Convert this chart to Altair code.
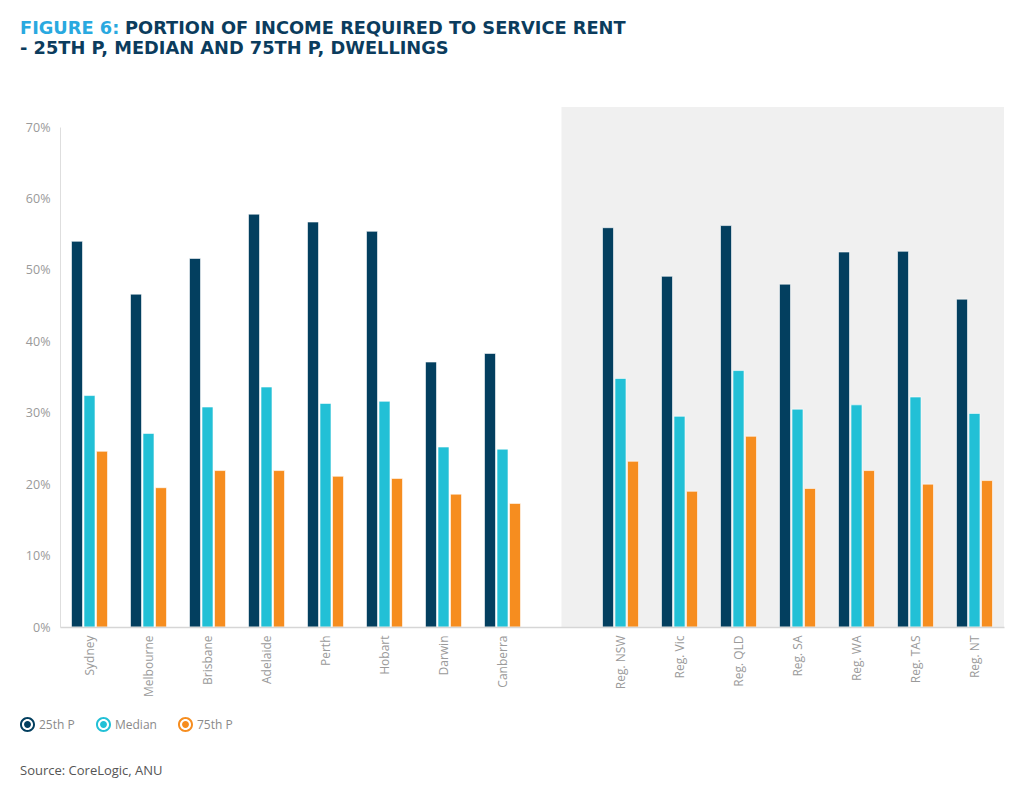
import altair as alt
import pandas as pd

# ---- data ----
cities = ["Sydney", "Melbourne", "Brisbane", "Adelaide", "Perth", "Hobart", "Darwin", "Canberra"]
regions = ["Reg. NSW", "Reg. Vic", "Reg. QLD", "Reg. SA", "Reg. WA", "Reg. TAS", "Reg. NT"]
series = ["25th P", "Median", "75th P"]

p25_cities = [54.0, 46.6, 51.6, 57.8, 56.7, 55.4, 37.1, 38.3]
med_cities = [32.4, 27.1, 30.8, 33.6, 31.3, 31.6, 25.2, 24.9]
p75_cities = [24.6, 19.5, 21.9, 21.9, 21.1, 20.8, 18.6, 17.3]

p25_regions = [55.9, 49.1, 56.2, 48.0, 52.5, 52.6, 45.9]
med_regions = [34.8, 29.5, 35.9, 30.5, 31.1, 32.2, 29.9]
p75_regions = [23.2, 19.0, 26.7, 19.4, 21.9, 20.0, 20.5]

y_ticks = [0, 10, 20, 30, 40, 50, 60, 70]
gap = " "
order = cities + [gap] + regions

colors = ["#033f5f", "#22c0d6", "#f68d1f"]

rows = []
for names, vals in [(cities, [p25_cities, med_cities, p75_cities]),
                    (regions, [p25_regions, med_regions, p75_regions])]:
    for i, name in enumerate(names):
        for s, v in zip(series, vals):
            rows.append({"cat": name, "series": s, "value": v[i]})
df = pd.DataFrame(rows)

band_df = pd.DataFrame({"start": [gap]})

x_scale = alt.Scale(domain=order, paddingInner=0.39, paddingOuter=0.195)
y_scale = alt.Scale(domain=[0, 70], nice=False)

label_color = "#9a9a9a"
font = "Open Sans"
title_font = "DejaVu Sans"
title_size = 17.8

band = alt.Chart(band_df).mark_rect(color="#f0f0f0").encode(
    x=alt.X("start:N", scale=x_scale, bandPosition=0.5),
    x2=alt.value("width"),
    y=alt.Y(datum=0, scale=y_scale),
    y2=alt.datum(72.8),
)

bars = alt.Chart(df).mark_bar(stroke="white", strokeWidth=1, strokeOpacity=0.6).encode(
    x=alt.X("cat:N", scale=x_scale, sort=order,
            axis=alt.Axis(title=None, labelAngle=-90, ticks=False, labelPadding=8,
                          labelColor=label_color, labelFontSize=12, labelFont=font,
                          domainColor="#d6d6d6", domainWidth=1.5)),
    xOffset=alt.XOffset("series:N", sort=series, scale=alt.Scale(paddingInner=0.12)),
    y=alt.Y("value:Q", scale=y_scale,
            axis=alt.Axis(title=None, values=y_ticks, labelExpr="datum.value + '%'",
                          ticks=False, labelPadding=10, labelColor=label_color,
                          labelFontSize=12.5, labelFont=font, gridColor="#dedede",
                          domainColor="#dedede")),
    color=alt.Color("series:N", sort=series,
                    scale=alt.Scale(domain=series, range=colors),
                    legend=alt.Legend(
                        title=None, orient="none", direction="horizontal",
                        legendX=-40, legendY=590,
                        symbolType="M0,-1A1,1 0 1,1 0,1A1,1 0 1,1 0,-1Z"
                                   "M0,-0.74A0.74,0.74 0 1,0 0,0.74A0.74,0.74 0 1,0 0,-0.74Z"
                                   "M0,-0.46A0.46,0.46 0 1,1 0,0.46A0.46,0.46 0 1,1 0,-0.46Z",
                        symbolSize=225, symbolStrokeWidth=0, symbolOpacity=1,
                        labelFont=font, labelFontSize=12, labelColor="#8a8a8a",
                        labelOffset=4, columnPadding=21)),
)

fig_df = pd.DataFrame({"t": ["FIGURE 6:"]})
title_fig = alt.Chart(fig_df).mark_text(
    align="left", baseline="alphabetic", font=title_font, fontWeight="bold",
    fontSize=title_size, color="#29a9e0").encode(text="t:N", x=alt.value(-40), y=alt.value(-93))
t1_df = pd.DataFrame({"t": ["PORTION OF INCOME REQUIRED TO SERVICE RENT"]})
title1 = alt.Chart(t1_df).mark_text(
    align="left", baseline="alphabetic", font=title_font, fontWeight="bold",
    fontSize=title_size, color="#0b3c5d").encode(
        text="t:N", x=alt.value(-40 + 5.9 * title_size), y=alt.value(-93))
t2_df = pd.DataFrame({"t": ["- 25TH P, MEDIAN AND 75TH P, DWELLINGS"]})
title2 = alt.Chart(t2_df).mark_text(
    align="left", baseline="alphabetic", font=title_font, fontWeight="bold",
    fontSize=title_size, color="#0b3c5d").encode(text="t:N", x=alt.value(-40), y=alt.value(-73))
src_df = pd.DataFrame({"t": ["Source: CoreLogic, ANU"]})
source = alt.Chart(src_df).mark_text(
    align="left", baseline="alphabetic", font=font, fontSize=13,
    color="#555555").encode(text="t:N", x=alt.value(-40), y=alt.value(648))

chart = alt.layer(band, bars, title_fig, title1, title2, source).properties(
    width=944, height=500,
    autosize=alt.AutoSizeParams(type="none"),
    padding={"left": 52, "top": 119, "right": 12, "bottom": 157},
).configure_view(stroke=None)

chart.save("out.html", embed_options={"renderer": "svg", "actions": False})
